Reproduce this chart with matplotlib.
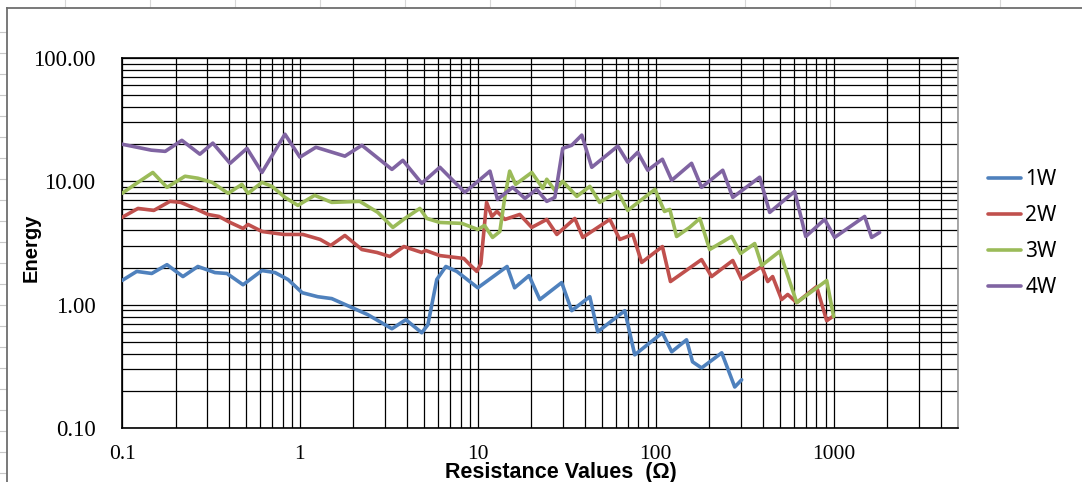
import matplotlib
matplotlib.use("Agg")
import matplotlib.pyplot as plt
from matplotlib.lines import Line2D
from matplotlib.ticker import LogLocator, FixedLocator, FixedFormatter, NullFormatter

# --- data (resistance in ohm, energy) ---
x_1w = [0.1, 0.121, 0.147, 0.179, 0.220, 0.267, 0.333, 0.389, 0.479, 0.612,
        0.725, 0.857, 1.03, 1.26, 1.51, 1.86, 2.41, 3.29, 3.94, 4.84,
        5.24, 5.88, 6.61, 7.62, 10.0, 14.6, 16.1, 19.4, 22.3, 29.6,
        33.7, 42.6, 47.2, 67.0, 76.2, 109, 123, 149, 161, 181,
        235, 278, 304]
y_1w = [1.57, 1.86, 1.79, 2.11, 1.69, 2.04, 1.82, 1.79, 1.45, 1.89,
        1.82, 1.60, 1.25, 1.16, 1.12, 0.98, 0.829, 0.638, 0.755, 0.592,
        0.688, 1.60, 2.04, 1.86, 1.37, 2.04, 1.37, 1.72, 1.10, 1.51,
        0.894, 1.16, 0.603, 0.894, 0.392, 0.592, 0.415, 0.519, 0.344, 0.307,
        0.407, 0.215, 0.246]

x_2w = [0.1, 0.123, 0.151, 0.186, 0.214, 0.257, 0.304, 0.351, 0.405, 0.479,
        0.511, 0.612, 0.813, 1.04, 1.30, 1.49, 1.79, 2.23, 2.71, 3.20,
        3.84, 4.84, 5.10, 6.12, 8.34, 9.02, 9.87, 10.4, 11.2, 12.0,
        12.8, 14.2, 17.2, 20.1, 24.4, 27.8, 35.1, 38.9, 55.2, 62.8,
        74.3, 83.4, 109, 121, 181, 206, 271, 304, 394, 426,
        454, 510, 552, 620, 802, 914, 986]
y_2w = [5.10, 6.03, 5.81, 6.88, 6.75, 6.03, 5.39, 5.19, 4.64, 4.15,
        4.47, 3.92, 3.71, 3.71, 3.38, 3.02, 3.64, 2.80, 2.65, 2.46,
        2.96, 2.65, 2.75, 2.50, 2.37, 2.11, 1.86, 2.15, 6.75, 5.19,
        5.70, 4.91, 5.39, 4.23, 4.91, 3.71, 5.00, 3.51, 4.91, 3.38,
        3.71, 2.20, 2.96, 1.54, 2.32, 1.69, 2.28, 1.60, 2.04, 1.54,
        1.69, 1.10, 1.21, 1.04, 1.40, 0.741, 0.80]

x_3w = [0.1, 0.123, 0.149, 0.179, 0.226, 0.267, 0.321, 0.395, 0.472, 0.511,
        0.612, 0.697, 0.824, 0.974, 1.21, 1.51, 2.17, 2.74, 3.33, 3.89,
        4.72, 5.17, 6.12, 8.13, 10.0, 10.9, 12.1, 13.3, 14.2, 15.1,
        16.3, 20.1, 23.2, 24.4, 27.1, 30.0, 36.0, 42.6, 48.4, 61.2,
        69.6, 99, 112, 120, 131, 155, 177, 201, 267, 300,
        360, 394, 497, 620, 914, 1000]
y_3w = [7.99, 9.81, 11.8, 8.94, 11.0, 10.6, 9.81, 7.99, 9.45, 7.99,
        9.81, 9.10, 7.41, 6.38, 7.70, 6.75, 6.88, 5.60, 4.23, 5.00,
        6.03, 5.00, 4.64, 4.56, 4.07, 4.39, 3.51, 3.92, 7.55, 12.1,
        9.45, 11.8, 8.77, 10.4, 8.45, 10.0, 7.55, 9.10, 6.75, 8.29,
        5.81, 8.61, 5.70, 5.92, 3.57, 4.23, 5.00, 2.80, 3.57, 2.60,
        3.13, 2.08, 2.70, 1.04, 1.57, 0.80]

x_4w = [0.1, 0.146, 0.175, 0.217, 0.274, 0.324, 0.405, 0.504, 0.612, 0.824,
        1.0, 1.23, 1.79, 2.23, 3.29, 3.79, 4.84, 6.12, 8.45, 11.7,
        12.9, 15.7, 18.4, 21.4, 24.4, 27.1, 30.0, 33.7, 38.4, 43.7,
        61.2, 69.6, 79.2, 90.2, 109, 123, 159, 181, 238, 271,
        384, 437, 604, 697, 890, 1013, 1494, 1635, 1813]
y_4w = [20.0, 17.9, 17.5, 21.5, 16.6, 20.4, 14.0, 18.5, 11.8, 24.1,
        15.7, 18.9, 16.0, 19.6, 12.5, 14.8, 9.63, 13.0, 8.14, 12.1,
        7.14, 8.94, 7.27, 8.61, 6.88, 7.41, 18.5, 19.6, 23.7, 13.0,
        19.3, 14.3, 17.2, 12.3, 15.1, 10.2, 14.0, 8.94, 12.3, 7.41,
        10.8, 5.60, 8.29, 3.57, 4.91, 3.51, 5.19, 3.51, 3.85]

labels = ["1W", "2W", "3W", "4W"]
colors = ["#4F81BD", "#C0504D", "#9BBB59", "#8064A2"]

x_ticks = [0.1, 1, 10, 100, 1000]
x_tick_labels = ["0.1", "1", "10", "100", "1000"]
y_ticks = [0.1, 1, 10, 100]
y_tick_labels = ["0.10", "1.00", "10.00", "100.00"]

W, H = 1082, 482
fig = plt.figure(figsize=(W / 100, H / 100), dpi=100)

# Excel chart-area border and the spreadsheet cells peeking out behind it
for gx in range(65, W, 85):
    fig.add_artist(Line2D([gx / W, gx / W], [1, 1 - 7 / H], color="#D8D8D8", lw=0.8))
for gy in range(32, H, 21):
    fig.add_artist(Line2D([0, 6 / W], [1 - gy / H, 1 - gy / H], color="#C8C8C8", lw=0.8))
fig.add_artist(Line2D([7 / W, 1], [1 - 8 / H, 1 - 8 / H], color="#6E6E6E", lw=1.3))
fig.add_artist(Line2D([7 / W, 7 / W], [0, 1 - 8 / H], color="#6E6E6E", lw=1.3))

ax = fig.add_axes([122 / W, 1 - 428 / H, (958 - 122) / W, (428 - 58) / H])
ax.set_xscale("log")
ax.set_yscale("log")

series = [(x_1w, y_1w), (x_2w, y_2w), (x_3w, y_3w), (x_4w, y_4w)]
for (xs, ys), lab, c in zip(series, labels, colors):
    ax.plot(xs, ys, color=c, lw=2.6, label=lab, solid_joinstyle="round",
            solid_capstyle="round", zorder=3)

ax.set_xlim(0.1, 5000)
ax.set_ylim(0.1, 100)

ax.xaxis.set_major_locator(FixedLocator(x_ticks))
ax.xaxis.set_major_formatter(FixedFormatter(x_tick_labels))
ax.yaxis.set_major_locator(FixedLocator(y_ticks))
ax.yaxis.set_major_formatter(FixedFormatter(y_tick_labels))
ax.xaxis.set_minor_locator(LogLocator(base=10, subs=range(2, 10), numticks=20))
ax.yaxis.set_minor_locator(LogLocator(base=10, subs=range(2, 10), numticks=20))
ax.xaxis.set_minor_formatter(NullFormatter())
ax.yaxis.set_minor_formatter(NullFormatter())

ax.set_axisbelow(True)
ax.grid(True, which="both", color="black", lw=0.9)
ax.tick_params(which="both", length=0)
ax.tick_params(axis="x", pad=12)
ax.tick_params(axis="y", pad=19)
for t in ax.get_xticklabels():
    t.set_fontfamily("Liberation Serif")
    t.set_fontsize(15.5)
for t in ax.get_yticklabels():
    t.set_fontfamily("Liberation Serif")
    t.set_fontsize(16.5)

for s in ["left", "bottom", "top"]:
    ax.spines[s].set_color("black")
    ax.spines[s].set_linewidth(1.2)
ax.spines["right"].set_color("#9A9A9A")
ax.spines["right"].set_linewidth(1.2)

fig.text(31 / W, 1 - 248 / H, "Energy", rotation=90, ha="center", va="center",
         fontsize=14.5, fontweight="bold", family="Liberation Sans")
fig.text(561 / W, 1 - 478 / H, "Resistance Values  (\u03a9)", ha="center",
         va="baseline", fontsize=15.5, fontweight="bold", family="Liberation Sans")

fig.legend(loc="upper left", bbox_to_anchor=(988 / W, 1 - 169 / H), frameon=False,
           borderpad=0, borderaxespad=0, handlelength=1.6, handletextpad=0.2,
           labelspacing=0.72, prop={"family": "Noto Sans", "size": 15})

fig.savefig("out.png", dpi=100)
